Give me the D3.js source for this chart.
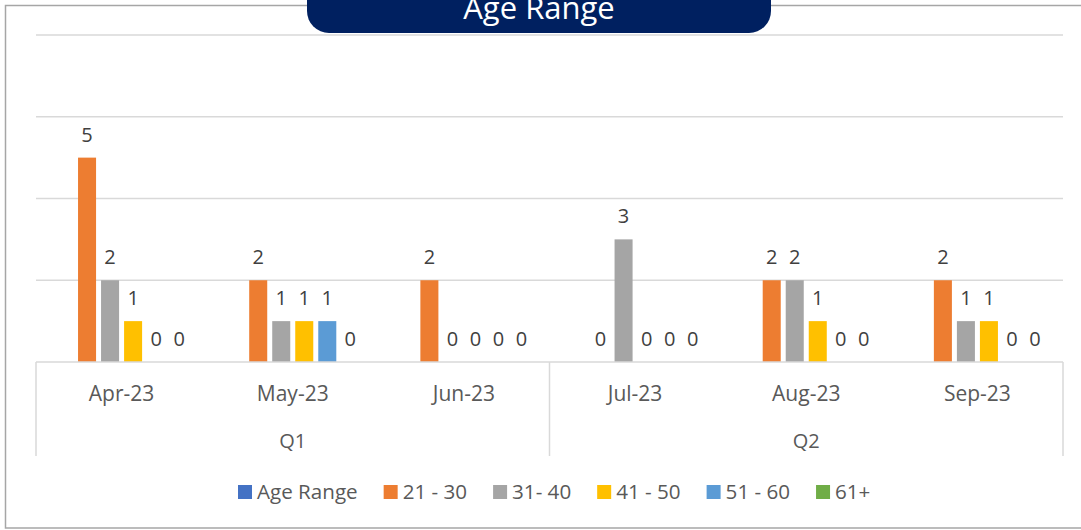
<!DOCTYPE html>
<html>
<head>
<meta charset="utf-8">
<script src="https://d3js.org/d3.v7.min.js"></script>
<style>
  body { margin: 0; background: #fff; }
  text { font-family: "Open Sans", sans-serif; }
</style>
</head>
<body>
<div id="chart"></div>
<script>
// data
const months = ["Apr-23", "May-23", "Jun-23", "Jul-23", "Aug-23", "Sep-23"];
const quarters = ["Q1", "Q1", "Q1", "Q2", "Q2", "Q2"];
const seriesNames = ["Age Range", "21 - 30", "31- 40", "41 - 50", "51 - 60", "61+"];
const ageRange = [null, null, null, null, null, null];
const age21to30 = [5, 2, 2, 0, 2, 2];
const age31to40 = [2, 1, 0, 3, 2, 1];
const age41to50 = [1, 1, 0, 0, 1, 1];
const age51to60 = [0, 1, 0, 0, 0, 0];
const age61plus = [0, 0, 0, 0, 0, 0];
const yTicks = [0, 2, 4, 6, 8];

const seriesValues = [ageRange, age21to30, age31to40, age41to50, age51to60, age61plus];
const colors = ["#4472C4", "#ED7D31", "#A5A5A5", "#FFC000", "#5B9BD5", "#70AD47"];

const width = 1081, height = 530;
const svg = d3.select("#chart").append("svg")
  .attr("width", width).attr("height", height);

// outer frame
svg.append("rect")
  .attr("x", 5.5).attr("y", 5.5)
  .attr("width", 1090).attr("height", 522.5)
  .attr("fill", "none")
  .attr("stroke", "#a6a6a6")
  .attr("stroke-width", 1.5);

const plotLeft = 36, plotRight = 1063, plotTop = 35, plotBottom = 362;

const x0 = d3.scaleBand()
  .domain(months)
  .range([plotLeft, plotRight])
  .paddingInner(0.193)
  .paddingOuter(0.0965);

const x1 = d3.scaleBand()
  .domain(seriesNames)
  .range([0, x0.bandwidth()])
  .paddingInner(0.217)
  .paddingOuter(0.1085);

const y = d3.scaleLinear()
  .domain([0, 8])
  .range([plotBottom, plotTop]);

// gridlines
svg.append("g")
  .selectAll("line")
  .data(yTicks.slice(1))
  .join("line")
    .attr("x1", plotLeft).attr("x2", plotRight)
    .attr("y1", d => y(d)).attr("y2", d => y(d))
    .attr("stroke", "#d9d9d9")
    .attr("stroke-width", 1.5);

// bars
const rows = [];
seriesNames.forEach((s, si) => {
  months.forEach((m, mi) => {
    const v = seriesValues[si][mi];
    if (v !== null) rows.push({ series: s, month: m, value: v, color: colors[si] });
  });
});

svg.append("g")
  .selectAll("rect")
  .data(rows)
  .join("rect")
    .attr("x", d => x0(d.month) + x1(d.series))
    .attr("y", d => y(d.value))
    .attr("width", x1.bandwidth())
    .attr("height", d => y(0) - y(d.value))
    .attr("fill", d => d.color);

// data labels
svg.append("g")
  .selectAll("text")
  .data(rows)
  .join("text")
    .attr("x", d => x0(d.month) + x1(d.series) + x1.bandwidth() / 2)
    .attr("y", d => y(d.value) - 16)
    .attr("text-anchor", "middle")
    .attr("font-size", 20)
    .attr("fill", "#404040")
    .text(d => d.value);

// category axis
const axisG = svg.append("g");
axisG.append("line")
  .attr("x1", plotLeft).attr("x2", plotRight)
  .attr("y1", plotBottom).attr("y2", plotBottom)
  .attr("stroke", "#d9d9d9").attr("stroke-width", 1.5);

// group separators
const groups = Array.from(new Set(quarters));
const groupBounds = groups.map(q => {
  const ms = months.filter((m, i) => quarters[i] === q);
  const step = x0.step();
  const start = x0(ms[0]) - step * x0.paddingInner() / 2;
  const end = x0(ms[ms.length - 1]) + x0.bandwidth() + step * x0.paddingInner() / 2;
  return { q, start, end };
});
const sepX = [groupBounds[0].start].concat(groupBounds.map(g => g.end));
axisG.selectAll("line.sep")
  .data(sepX)
  .join("line")
    .attr("class", "sep")
    .attr("x1", d => d).attr("x2", d => d)
    .attr("y1", plotBottom).attr("y2", 456)
    .attr("stroke", "#d9d9d9").attr("stroke-width", 1.5);

axisG.selectAll("text.month")
  .data(months)
  .join("text")
    .attr("class", "month")
    .attr("x", d => x0(d) + x0.bandwidth() / 2)
    .attr("y", 401)
    .attr("text-anchor", "middle")
    .attr("font-size", 21)
    .attr("fill", "#595959")
    .text(d => d);

axisG.selectAll("text.quarter")
  .data(groupBounds)
  .join("text")
    .attr("class", "quarter")
    .attr("x", d => (d.start + d.end) / 2)
    .attr("y", 448)
    .attr("text-anchor", "middle")
    .attr("font-size", 20)
    .attr("fill", "#595959")
    .text(d => d.q);

// title banner (cut off by the top edge, as in the original)
svg.append("rect")
  .attr("x", 307).attr("y", -30)
  .attr("width", 464).attr("height", 63)
  .attr("rx", 22).attr("ry", 22)
  .attr("fill", "#002060");
svg.append("text")
  .attr("x", 539).attr("y", 19)
  .attr("text-anchor", "middle")
  .attr("font-size", 31)
  .attr("fill", "#ffffff")
  .text("Age Range");

// legend
const legend = svg.append("g");
let lx = 238;
seriesNames.forEach((s, i) => {
  const item = legend.append("g").attr("transform", `translate(${lx},0)`);
  item.append("rect")
    .attr("x", 0).attr("y", 485)
    .attr("width", 14).attr("height", 14)
    .attr("fill", colors[i]);
  const t = item.append("text")
    .attr("x", 19).attr("y", 499)
    .attr("font-size", 20.6)
    .attr("fill", "#595959")
    .text(s);
  lx += 19 + t.node().getComputedTextLength() + 26;
});
</script>
</body>
</html>
